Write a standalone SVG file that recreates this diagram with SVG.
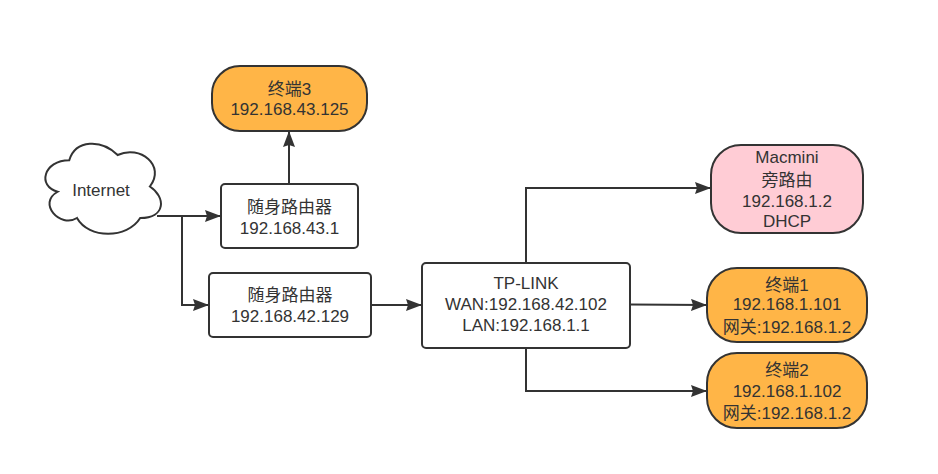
<svg xmlns="http://www.w3.org/2000/svg" width="938" height="474" viewBox="0 0 938 474">
<defs>
<style>
.t{font-family:"Liberation Sans","Noto Sans CJK SC",sans-serif;font-size:17px;fill:#333333;text-anchor:middle}
.box{fill:#ffffff;stroke:#333333;stroke-width:2}
.org{fill:#FFB547;stroke:#333333;stroke-width:2}
.pink{fill:#FFCCD5;stroke:#333333;stroke-width:2}
.ln{fill:none;stroke:#333333;stroke-width:2}
</style>
<marker id="arr" viewBox="0 0 16 12" refX="15" refY="6" markerWidth="16" markerHeight="12" markerUnits="userSpaceOnUse" orient="auto">
<path d="M0,0 L16,6 L0,12 L2,6 Z" fill="#333333"/>
</marker>
</defs>
<rect width="938" height="474" fill="#ffffff"/>
<g id="connectors">
<path class="ln" d="M157,216 L220,216" marker-end="url(#arr)"/>
<path class="ln" d="M182,216 L182,305 L208,305" marker-end="url(#arr)"/>
<path class="ln" d="M289,184 L289,132" marker-end="url(#arr)"/>
<path class="ln" d="M371,305 L421,305" marker-end="url(#arr)"/>
<path class="ln" d="M526,263 L526,188 L710,188" marker-end="url(#arr)"/>
<path class="ln" d="M630,304.5 L706,305" marker-end="url(#arr)"/>
<path class="ln" d="M526,348 L526,391 L706,391" marker-end="url(#arr)"/>
</g>
<g id="internet">
<path class="box" transform="translate(37,134)" d="M32.25,26.25 C6.45,26.25 0,52.5 20.64,57.75 C0,69.3 23.22,94.5 39.99,84 C51.6,105 90.3,105 103.2,84 C129,84 129,63 112.875,52.5 C129,31.5 103.2,10.5 80.625,21 C64.5,5.25 38.7,5.25 32.25,26.25 Z"/>
<text class="t" x="101" y="196">Internet</text>
</g>
<g id="terminal3">
<rect class="org" x="212" y="66" width="155" height="65" rx="28" ry="28"/>
<text class="t" x="289.5" y="95">终端3</text>
<text class="t" x="289.5" y="115">192.168.43.125</text>
</g>
<g id="router43">
<rect class="box" x="221" y="184" width="137" height="64" rx="4" ry="4"/>
<text class="t" x="289.5" y="213">随身路由器</text>
<text class="t" x="289.5" y="234">192.168.43.1</text>
</g>
<g id="router42">
<rect class="box" x="209" y="273" width="162" height="64" rx="4" ry="4"/>
<text class="t" x="290" y="301">随身路由器</text>
<text class="t" x="290" y="322">192.168.42.129</text>
</g>
<g id="tplink">
<rect class="box" x="422" y="263" width="208" height="85" rx="4" ry="4"/>
<text class="t" x="526" y="289">TP-LINK</text>
<text class="t" x="526" y="310">WAN:192.168.42.102</text>
<text class="t" x="526" y="331">LAN:192.168.1.1</text>
</g>
<g id="macmini">
<rect class="pink" x="711" y="145" width="152" height="88" rx="30" ry="30"/>
<text class="t" x="787" y="163">Macmini</text>
<text class="t" x="787" y="186">旁路由</text>
<text class="t" x="787" y="207">192.168.1.2</text>
<text class="t" x="787" y="227">DHCP</text>
</g>
<g id="terminal1">
<rect class="org" x="707" y="268" width="160" height="74" rx="30" ry="30"/>
<text class="t" x="787" y="291">终端1</text>
<text class="t" x="787" y="310">192.168.1.101</text>
<text class="t" x="787" y="333">网关:192.168.1.2</text>
</g>
<g id="terminal2">
<rect class="org" x="707" y="353" width="160" height="75" rx="30" ry="30"/>
<text class="t" x="787" y="376">终端2</text>
<text class="t" x="787" y="397">192.168.1.102</text>
<text class="t" x="787" y="419">网关:192.168.1.2</text>
</g>
</svg>
